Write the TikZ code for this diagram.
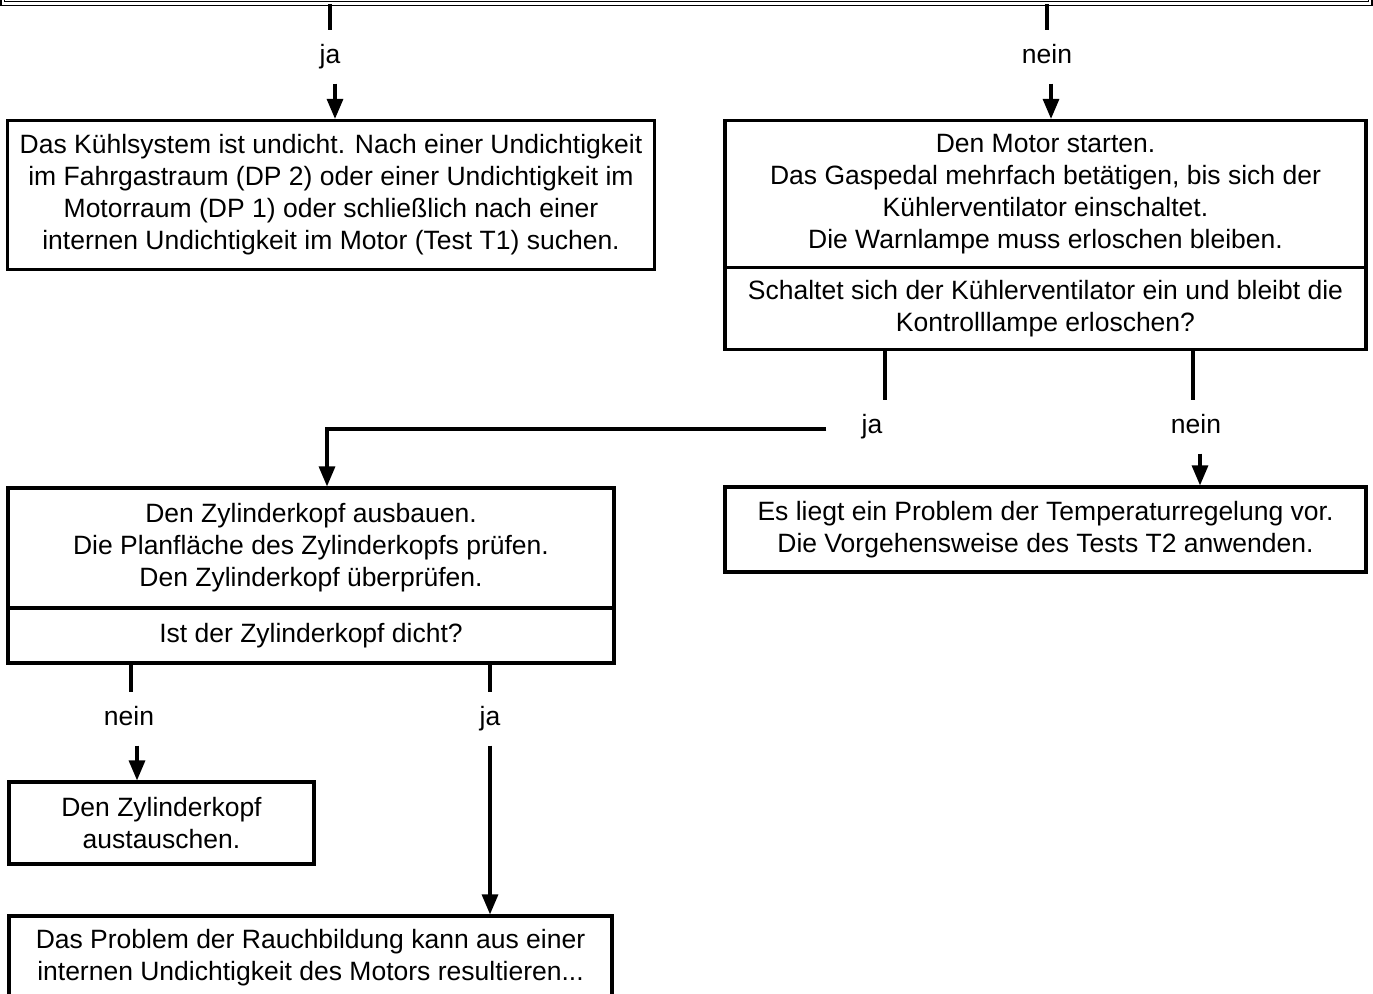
\documentclass[tikz,border=0pt]{standalone}
\usepackage{fontspec}
\setmainfont{Liberation Sans}
\usetikzlibrary{arrows.meta}
\tikzset{
  box/.style={draw,rectangle,line width=3.2pt,align=center,inner sep=0pt,font=\fontsize{26.5}{32}\selectfont},
  lbl/.style={inner sep=0pt,minimum height=50pt,text height=19pt,text depth=6pt,font=\fontsize{26.5}{32}\selectfont},
  arr/.style={-{Triangle[length=20pt,width=16pt]}}
}
\begin{document}
\begin{tikzpicture}[x=1pt,y=-1pt,line width=3.2pt]
\useasboundingbox (0,0) rectangle (1373,993);
\clip (0,0) rectangle (1373,993);
\node[draw,double,double distance=2.2pt,line width=1.4pt,minimum width=1367.5pt,minimum height=127pt,inner sep=0pt] (top) at (686.5,-60) {};
\node[box,minimum width=647pt,minimum height=149pt] (leak) at (331,195) {Das Kühlsystem ist undicht. Nach einer Undichtigkeit\\im Fahrgastraum (DP 2) oder einer Undichtigkeit im\\Motorraum (DP 1) oder schließlich nach einer\\internen Undichtigkeit im Motor (Test T1) suchen.};
\node[box,minimum width=641pt,minimum height=147pt] (motor) at (1045.5,194) {Den Motor starten.\\Das Gaspedal mehrfach betätigen, bis sich der\\Kühlerventilator einschaltet.\\Die Warnlampe muss erloschen bleiben.};
\node[box,minimum width=641pt,minimum height=82pt] (motorq) at (1045.5,308.5) {Schaltet sich der Kühlerventilator ein und bleibt die\\Kontrolllampe erloschen?};
\node[box,minimum width=606pt,minimum height=120pt] (head) at (311,548) {Den Zylinderkopf ausbauen.\\Die Planfläche des Zylinderkopfs prüfen.\\Den Zylinderkopf überprüfen.};
\node[box,minimum width=606pt,minimum height=55pt] (headq) at (311,635.5) {Ist der Zylinderkopf dicht?};
\node[box,minimum width=641pt,minimum height=85pt] (temp) at (1045.5,529.5) {Es liegt ein Problem der Temperaturregelung vor.\\Die Vorgehensweise des Tests T2 anwenden.};
\node[box,minimum width=305pt,minimum height=82pt] (swap) at (161.5,823) {Den Zylinderkopf\\austauschen.};
\node[box,minimum width=603pt,minimum height=84pt] (smoke) at (310.5,958) {Das Problem der Rauchbildung kann aus einer\\internen Undichtigkeit des Motors resultieren...};
\node[lbl] (ja1) at (330,57) {ja};
\node[lbl] (nein1) at (1047,57) {nein};
\node[lbl,minimum width=88pt] (ja2) at (872,427) {ja};
\node[lbl] (nein2) at (1196,427) {nein};
\node[lbl] (nein3) at (129,719) {nein};
\node[lbl] (ja3) at (490,719) {ja};
\draw (top.south -| ja1) -- (ja1.north);
\draw[arr] ([xshift=5pt]ja1.south) -- ([xshift=5pt]ja1.south |- leak.north);
\draw (top.south -| nein1) -- (nein1.north);
\draw[arr] ([xshift=4pt]nein1.south) -- ([xshift=4pt]nein1.south |- motor.north);
\draw ([xshift=13pt]motorq.south -| ja2) -- ([xshift=13pt]ja2.north);
\draw[arr] ([yshift=-2pt]ja2.west) -| ([xshift=16pt]head.north);
\draw ([xshift=-3pt]motorq.south -| nein2) -- ([xshift=-3pt]nein2.north);
\draw[arr] ([xshift=4pt]nein2.south) -- ([xshift=4pt]nein2.south |- temp.north);
\draw ([xshift=2pt]headq.south -| nein3) -- ([xshift=2pt]nein3.north);
\draw[arr] ([xshift=8pt]nein3.south) -- ([xshift=8pt]nein3.south |- swap.north);
\draw (headq.south -| ja3) -- (ja3.north);
\draw[arr] (ja3.south) -- (ja3.south |- smoke.north);
\end{tikzpicture}
\end{document}
